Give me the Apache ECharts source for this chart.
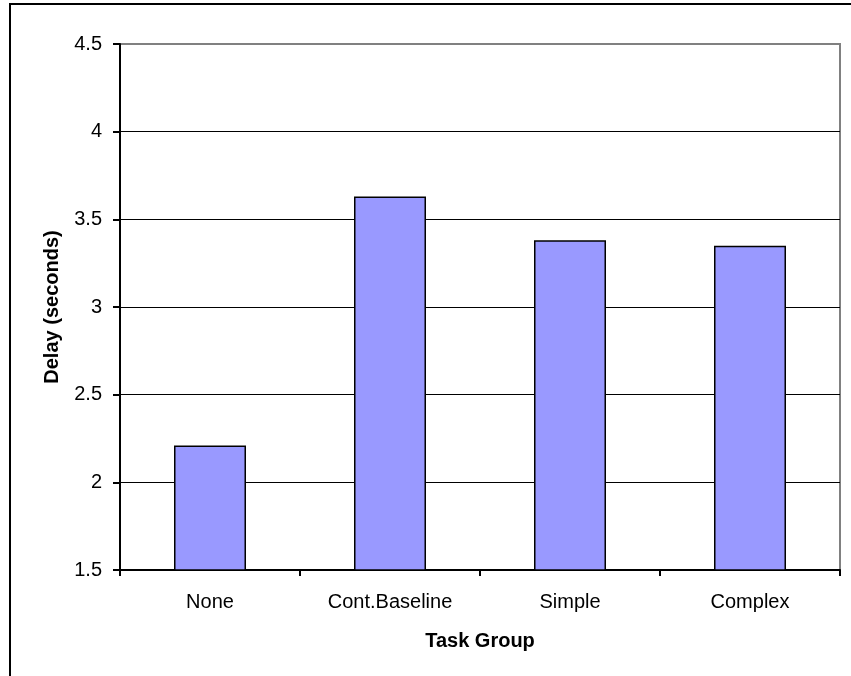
<!DOCTYPE html>
<html>
<head>
<meta charset="utf-8">
<script src="https://cdn.jsdelivr.net/npm/echarts@6/dist/echarts.min.js"></script>
<style>
  html, body { margin: 0; padding: 0; background: #fff; }
  #chart { width: 851px; height: 676px; }
</style>
</head>
<body>
<div id="chart"></div>
<script>
const categories = ['None', 'Cont.Baseline', 'Simple', 'Complex']
const delays = [2.21, 3.63, 3.38, 3.35]
const yMin = 1.5
const yMax = 4.5
const yStep = 0.5

const font = '"Liberation Sans", Arial, sans-serif'
const chart = echarts.init(document.getElementById('chart'))

// gridlines are black, except the top one which sits on the grey plot border
const splitColors = ['#000', '#000', '#000', '#000', '#000', '#000', '#808080']

chart.setOption({
  animation: false,
  textStyle: { fontFamily: font },
  graphic: [{
    type: 'rect',
    shape: { x: 10, y: 4, width: 900, height: 800 },
    style: { fill: 'none', stroke: '#000', lineWidth: 2 },
    silent: true
  }],
  grid: {
    left: 120, right: 11, top: 44, bottom: 106,
    show: true, borderColor: '#808080', borderWidth: 2, backgroundColor: 'transparent'
  },
  xAxis: {
    type: 'category',
    data: categories,
    name: 'Task Group',
    nameLocation: 'middle',
    nameGap: 61,
    nameTextStyle: { fontSize: 20, fontWeight: 'bold', color: '#000', fontFamily: font },
    axisLine: { lineStyle: { color: '#000', width: 2 } },
    axisTick: { show: true, length: 6, lineStyle: { color: '#000', width: 2 } },
    axisLabel: { fontSize: 20, color: '#000', margin: 22, fontFamily: font }
  },
  yAxis: {
    type: 'value',
    min: yMin,
    max: yMax,
    interval: yStep,
    name: 'Delay (seconds)',
    nameLocation: 'middle',
    nameGap: 58,
    nameTextStyle: { fontSize: 20, fontWeight: 'bold', color: '#000', fontFamily: font },
    axisLine: { show: true, lineStyle: { color: '#000', width: 2 } },
    axisTick: { show: true, length: 7, lineStyle: { color: '#000', width: 2 } },
    axisLabel: { fontSize: 20, color: '#000', margin: 18, fontFamily: font },
    splitLine: { lineStyle: { color: splitColors, width: 1 } }
  },
  series: [{
    type: 'bar',
    data: delays,
    barWidth: '40%',
    itemStyle: { color: '#9999FF', borderColor: '#000', borderWidth: 1.5 }
  }]
})
</script>
</body>
</html>
